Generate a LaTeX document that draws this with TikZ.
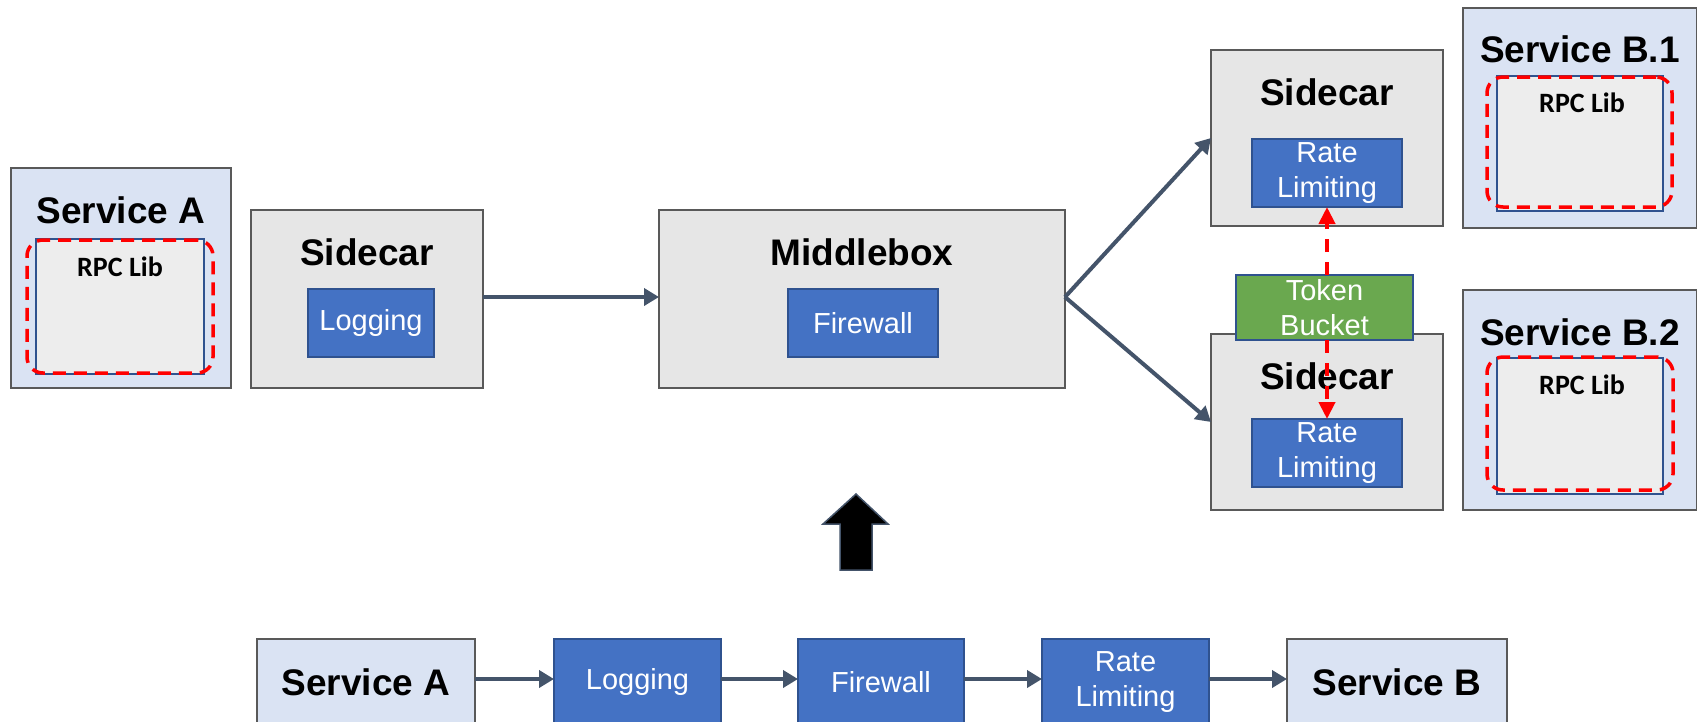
\documentclass[tikz,border=0pt]{standalone}
\usepackage{fontspec}
\setmainfont{Liberation Sans}
\newfontfamily\libschrift{Carlito}
\usetikzlibrary{arrows.meta}

\definecolor{dienstblau}{HTML}{DAE3F3}
\definecolor{hellgrau}{HTML}{E6E6E6}
\definecolor{libgrau}{HTML}{EDEDED}
\definecolor{rahmen}{HTML}{595959}
\definecolor{modulblau}{HTML}{4472C4}
\definecolor{modulrand}{HTML}{2F528F}
\definecolor{gruen}{HTML}{6AA84F}
\definecolor{pfeil}{HTML}{44546A}

\begin{document}
\begin{tikzpicture}[x=1pt, y=-1pt,
		kasten/.style={draw=rahmen, line width=2pt, inner sep=0pt, outer sep=0pt},
		dienst/.style={kasten, fill=dienstblau},
		huelle/.style={kasten, fill=hellgrau},
		modul/.style={draw=modulrand, line width=2pt, fill=modulblau, text=white, align=center,
			font=\fontsize{29}{35}\selectfont, inner sep=0pt, outer sep=0pt},
		titel/.style={font=\fontsize{37}{44}\selectfont\bfseries, inner sep=0pt},
		lib/.style={draw=modulrand, line width=2pt, fill=libgrau, inner sep=0pt},
		rpc/.style={draw=red, line width=3.5pt, dash pattern=on 13pt off 8pt, rounded corners=16pt, inner sep=0pt},
		libtext/.style={font=\libschrift\fontsize{28}{34}\selectfont\bfseries, inner sep=0pt},
		fluss/.style={draw=pfeil, line width=4pt, -{Triangle[length=15pt,width=17pt]}},
		token/.style={draw=red, line width=4pt, dash pattern=on 13pt off 10pt, -{Triangle[length=17pt,width=16pt]}}
	]
		\path[use as bounding box, clip] (0,0) rectangle (1697,721);

		% Service A
		\node[dienst, minimum width=220pt, minimum height=220pt] (svcA) at (121,278) {};
		\node[lib, minimum width=168pt, minimum height=135pt] (libA) at (120,306.5) {};
		\node[rpc, minimum width=186pt, minimum height=133pt] (rpcA) at (120,306.5) {};
		\node[titel] (svcA_t) at (121,210) {Service A};
		\node[libtext] (libA_t) at (120,267) {RPC Lib};

		% Sidecar links
		\node[huelle, minimum width=232pt, minimum height=178pt] (scA) at (367,299) {};
		\node[titel] (scA_t) at (367,252) {Sidecar};
		\node[modul, minimum width=126pt, minimum height=68pt] (log) at (371,323) {Logging};

		% Middlebox
		\node[huelle, minimum width=406pt, minimum height=178pt] (mb) at (862,299) {};
		\node[titel] (mb_t) at (862,252) {Middlebox};
		\node[modul, minimum width=150pt, minimum height=68pt] (fw) at (863,323) {Firewall};

		% Sidecars rechts
		\node[huelle, minimum width=232pt, minimum height=176pt] (sc1) at (1327,138) {};
		\node[titel] (sc1_t) at (1327,92) {Sidecar};
		\node[modul, minimum width=150pt, minimum height=68pt] (rl1) at (1327,173) {Rate\\Limiting};

		\node[huelle, minimum width=232pt, minimum height=176pt] (sc2) at (1327,422) {};
		\node[titel] (sc2_t) at (1327,376) {Sidecar};
		\node[modul, minimum width=150pt, minimum height=68pt] (rl2) at (1327,453) {Rate\\Limiting};

		\node[modul, fill=gruen, minimum width=177pt, minimum height=65pt] (tb) at (1324.5,307.5) {Token\\Bucket};

		% Service B.1 und B.2
		\node[dienst, minimum width=234pt, minimum height=220pt] (svcB1) at (1580,118) {};
		\node[lib, minimum width=166pt, minimum height=135pt] (libB1) at (1580,143.5) {};
		\node[rpc, minimum width=185pt, minimum height=130pt] (rpcB1) at (1579.5,142) {};
		\node[titel] (svcB1_t) at (1580,49) {Service B.1};
		\node[libtext] (libB1_t) at (1582,102.5) {RPC Lib};

		\node[dienst, minimum width=234pt, minimum height=220pt] (svcB2) at (1580,400) {};
		\node[lib, minimum width=166pt, minimum height=136pt] (libB2) at (1580,426) {};
		\node[rpc, minimum width=186pt, minimum height=133pt] (rpcB2) at (1580,423.5) {};
		\node[titel] (svcB2_t) at (1580,332) {Service B.2};
		\node[libtext] (libB2_t) at (1582,385) {RPC Lib};

		% Pfeile oben
		\coordinate (gabel) at ([yshift=2pt]mb.east);
		\draw[fluss] ([yshift=2pt]scA.east) -- ([yshift=2pt]mb.west);
		\draw[fluss] (gabel) -- (sc1.west);
		\draw[fluss] (gabel) -- (sc2.west);
		\draw[token] (tb.north -| rl1.south) -- (rl1.south);
		\draw[token] (tb.south -| rl2.north) -- (rl2.north);

		% Pfeil nach oben
		\filldraw[fill=black, draw=pfeil, line width=1.5pt]
			(856,494) -- (888,524) -- (872,524) -- (872,570) -- (840,570) -- (840,524) -- (823,524) -- cycle;

		% Kette unten
		\node[dienst, titel, minimum width=218pt, minimum height=86pt] (sa) at (366,682) {Service A};
		\node[modul, minimum width=167pt, minimum height=86pt] (lg) at (637.5,682) {Logging};
		\node[modul, minimum width=166pt, minimum height=86pt] (fw2) at (881,682) {Firewall};
		\node[modul, minimum width=167pt, minimum height=86pt] (rl3) at (1125.5,682) {Rate\\Limiting};
		\node[dienst, titel, minimum width=220pt, minimum height=86pt] (sb) at (1397,682) {Service B};

		\foreach \a/\b in {sa/lg, lg/fw2, fw2/rl3, rl3/sb}
			\draw[fluss] ([yshift=3pt]\a.east) -- ([yshift=3pt]\b.west);
	\end{tikzpicture}
\end{document}
